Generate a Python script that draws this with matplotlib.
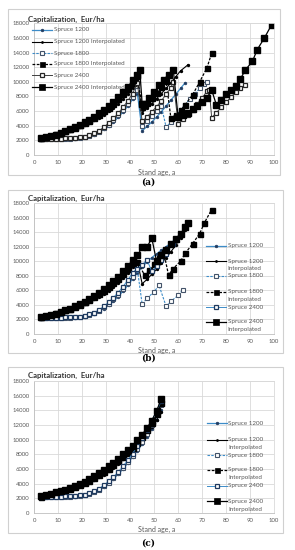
import matplotlib
matplotlib.use("Agg")
import matplotlib.pyplot as plt
from matplotlib.lines import Line2D
from matplotlib.patches import Rectangle

W, H = 295, 550

# ---------------- data ----------------
EARLY_AGES = [3, 5, 7, 9, 11, 13, 15, 17, 19, 21, 23, 25, 27, 29, 31, 33, 35, 37, 39, 41]
EARLY_1200 = [2100, 2150, 2150, 2200, 2200, 2200, 2250, 2250, 2300, 2400, 2550, 2800, 3100, 3500, 3950, 4500, 5150, 5900, 6700, 7600]
EARLY_1200I = [2250, 2400, 2550, 2700, 2900, 3100, 3300, 3550, 3800, 4100, 4400, 4750, 5100, 5500, 5950, 6450, 7000, 7650, 8350, 9200]
EARLY_1800 = [2150, 2200, 2200, 2200, 2250, 2250, 2250, 2300, 2300, 2450, 2600, 2850, 3200, 3650, 4150, 4750, 5400, 6150, 7000, 7900]
EARLY_1800I = [2300, 2450, 2650, 2850, 3050, 3250, 3500, 3750, 4050, 4350, 4700, 5100, 5500, 5950, 6450, 7000, 7600, 8300, 9000, 9800]
EARLY_2400 = [2200, 2200, 2250, 2250, 2250, 2300, 2300, 2350, 2400, 2500, 2700, 2950, 3300, 3800, 4350, 5000, 5700, 6500, 7400, 8400]
EARLY_2400I = [2300, 2450, 2600, 2800, 3000, 3250, 3500, 3800, 4100, 4450, 4800, 5250, 5700, 6200, 6750, 7300, 7900, 8600, 9300, 10200]

# panel (a) tails
A_1200_AGES = [43, 45, 47, 49, 51, 53, 55, 57, 59, 61, 63]
A_1200_VALS = [8400, 3300, 3900, 4500, 5200, 5900, 6700, 7500, 8300, 9100, 9900]
A_1200I_AGES = [43, 45, 47, 49, 51, 53, 55, 57, 59, 61, 64]
A_1200I_VALS = [10200, 5800, 6400, 7000, 7700, 8400, 9100, 9900, 10700, 11500, 12300]
A_1800_AGES = [43, 45, 47, 49, 51, 53, 55, 57, 59, 61, 63, 65, 67, 69, 71, 72]
A_1800_VALS = [8900, 4000, 4700, 5300, 6000, 6700, 3800, 4500, 5300, 6100, 6900, 7700, 8400, 9100, 9700, 10000]
A_1800I_AGES = [43, 45, 47, 49, 51, 53, 55, 57, 59, 61, 63, 66, 69, 72, 74]
A_1800I_VALS = [10800, 6500, 7100, 7800, 8500, 9300, 10100, 5000, 5500, 6100, 6900, 8200, 10000, 11900, 13900]
A_2400_AGES = [43, 45, 47, 49, 51, 53, 55, 57, 58, 60, 62, 64, 66, 68, 70, 72, 73, 74, 76, 78, 80, 82, 84, 86, 88]
A_2400_VALS = [9800, 4600, 5200, 5900, 6600, 7400, 8300, 9200, 10000, 4300, 4900, 5500, 6200, 7000, 7800, 8700, 8900, 5100, 5800, 6500, 7200, 7900, 8600, 9100, 9500]
A_2400I_AGES = [43, 44, 45, 46, 48, 50, 52, 54, 56, 58, 60, 62, 64, 66, 68, 70, 72, 74, 76, 78, 80, 82, 84, 86, 88, 91, 93, 96, 99]
A_2400I_VALS = [11000, 11600, 7000, 7000, 7800, 8600, 9500, 10300, 11000, 11600, 5200, 5400, 5700, 6300, 6700, 7200, 7800, 8900, 6800, 7500, 8400, 8900, 9400, 10400, 11600, 12800, 14400, 16000, 17800]

# panel (b) tails
B_1200_AGES = [43, 45, 47, 49, 51, 53, 55, 57, 59, 61, 63]
B_1200_VALS = [8400, 9200, 9900, 10500, 11000, 11500, 12000, 12500, 13100, 13700, 14400]
B_1200I_AGES = [43, 45, 47, 49, 51, 53, 55, 57, 59, 61, 63]
B_1200I_VALS = [10000, 6900, 7500, 8200, 8900, 9700, 10500, 11300, 12200, 13200, 14300]
B_1800_AGES = [43, 45, 47, 50, 52, 55, 57, 60, 62]
B_1800_VALS = [8900, 4100, 4900, 5800, 6700, 3800, 4500, 5300, 6100]
B_1800I_AGES = [43, 46, 48, 50, 52, 54, 56, 58, 61, 63, 66, 69, 71, 74]
B_1800I_VALS = [9900, 8100, 8800, 9600, 10400, 11200, 8100, 9000, 10000, 11100, 12400, 13800, 15300, 17100]
B_2400_AGES = [43, 45, 47, 49, 51, 53, 55, 57, 58]
B_2400_VALS = [9000, 9500, 10200, 8600, 9300, 10100, 11000, 12300, 12400]
B_2400I_AGES = [43, 45, 47, 49, 51, 53, 55, 57, 59, 61, 63, 64]
B_2400I_VALS = [10800, 11900, 11900, 13200, 10000, 10800, 11500, 12300, 13100, 13800, 14700, 15300]

# panel (c)
C_AGES = [3, 5, 7, 9, 11, 13, 15, 17, 19, 21, 23, 25, 27, 29, 31, 33, 35, 37, 39, 41, 43, 45, 47, 49, 51, 53]
C_1200 = [2100, 2150, 2150, 2200, 2200, 2200, 2250, 2250, 2300, 2400, 2550, 2800, 3150, 3600, 4100, 4650, 5300, 6000, 6800, 7650, 8500, 9400, 10400, 11500, 12700, 14000]
C_1200I = [2200, 2350, 2500, 2650, 2800, 3000, 3200, 3400, 3650, 3900, 4200, 4500, 4850, 5250, 5700, 6200, 6750, 7350, 8000, 8650, 9300, 10000, 10800, 11700, 12700, 13800]
C_1800 = [2150, 2200, 2200, 2200, 2250, 2250, 2250, 2300, 2300, 2450, 2600, 2850, 3200, 3650, 4150, 4750, 5400, 6150, 6950, 7800, 8700, 9700, 10800, 12000, 13300, 14700]
C_1800I = [2250, 2400, 2550, 2700, 2900, 3100, 3300, 3550, 3800, 4100, 4400, 4750, 5150, 5550, 6000, 6500, 7050, 7650, 8250, 8900, 9600, 10400, 11300, 12300, 13500, 15000]
C_2400 = [2200, 2200, 2250, 2250, 2250, 2300, 2300, 2350, 2400, 2500, 2700, 2950, 3300, 3800, 4300, 4900, 5600, 6350, 7200, 8100, 9100, 10200, 11300, 12600, 13900, 15300]
C_2400I = [2300, 2450, 2600, 2800, 3000, 3200, 3450, 3700, 3950, 4250, 4600, 5000, 5400, 5850, 6350, 6850, 7400, 8000, 8600, 9200, 9900, 10700, 11600, 12600, 13900, 15600]

LABELS = ["Spruce 1200", "Spruce 1200 Interpolated", "Spruce 1800",
          "Spruce 1800 Interpolated", "Spruce 2400", "Spruce 2400 Interpolated"]
X_TICKS = [0, 10, 20, 30, 40, 50, 60, 70, 80, 90, 100]
Y_TICKS = [0, 2000, 4000, 6000, 8000, 10000, 12000, 14000, 16000, 18000]

# ---------------- styles ----------------
BLUE = "#3D8CC8"
NAVY = "#1F3A5F"
GRID = "#D9D9D9"
TICKC = "#595959"
FONT = ["Lato", "DejaVu Sans"]

def styles(panel):
    c2400 = "#404040" if panel == "a" else BLUE
    e2400 = "#262626" if panel == "a" else NAVY
    return [
        dict(color=BLUE, ls="-", lw=0.9, marker="o", ms=2.0, mfc=NAVY, mec=NAVY, mew=0.4),
        dict(color="black", ls="-", lw=0.8, marker="o", ms=1.4, mfc="black", mec="black"),
        dict(color=BLUE, ls=(0, (2.2, 1.2)), lw=0.8, marker="s", ms=3.4, mfc="white", mec="#44546A", mew=0.8),
        dict(color="black", ls=(0, (2.2, 1.2)), lw=0.9, marker="s", ms=3.6, mfc="black", mec="black"),
        dict(color=c2400, ls="-", lw=0.7, marker="s", ms=3.4, mfc="white", mec=e2400, mew=0.9),
        dict(color="black", ls="-", lw=0.9, marker="s", ms=4.5, mfc="black", mec="black"),
    ]

plt.rcParams["font.family"] = FONT
fig = plt.figure(figsize=(W / 100, H / 100), dpi=100)

def fx(x):
    return x / W

def fy(y):
    return 1 - y / H

def frame(x0, y0, x1, y1):
    fig.add_artist(Rectangle((fx(x0), fy(y1)), fx(x1) - fx(x0), fy(y0) - fy(y1),
                             transform=fig.transFigure, fill=False, ec="#D0D0D0", lw=0.8))

def make_axes(top, bottom):
    ax = fig.add_axes([fx(34.3), fy(bottom), fx(274) - fx(34.3), fy(top) - fy(bottom)])
    ax.set_xlim(0, 100)
    ax.set_ylim(0, 18000)
    ax.set_xticks(X_TICKS)
    ax.set_yticks(Y_TICKS)
    ax.set_xticklabels([str(t) for t in X_TICKS])
    ax.set_yticklabels([str(t) for t in Y_TICKS])
    ax.grid(True, color=GRID, lw=0.6)
    ax.set_axisbelow(True)
    for s in ax.spines.values():
        s.set_color(GRID)
        s.set_linewidth(0.6)
    ax.spines["left"].set_color("#BFBFBF")
    ax.spines["bottom"].set_color("#BFBFBF")
    ax.tick_params(length=0, labelsize=4.3, labelcolor=TICKC, pad=3.5)
    return ax

def legend_entry(x0, x1, y, st):
    ln = Line2D([fx(x0), fx(x1)], [fy(y), fy(y)], transform=fig.transFigure,
                color=st["color"], ls=st["ls"], lw=st["lw"])
    fig.add_artist(ln)
    mk = Line2D([fx((x0 + x1) / 2)], [fy(y)], transform=fig.transFigure, ls="none",
                marker=st["marker"], ms=st["ms"], mfc=st["mfc"], mec=st["mec"],
                mew=st.get("mew", 0.5))
    fig.add_artist(mk)

def ltext(x, y, s):
    fig.text(fx(x), fy(y), s, fontsize=4.5, color=TICKC, ha="left", va="center")

def titles(ytitle, ylabel_y, ycap, cap):
    fig.text(fx(28), fy(ytitle), "Capitalization,  Eur/ha", fontsize=5.6,
             color="#333333", fontweight="bold", ha="left", va="center")
    fig.text(fx(157), fy(ylabel_y), "Stand age, a", fontsize=5.0, color=TICKC,
             ha="center", va="center")
    fig.text(fx(148), fy(ycap), cap, fontsize=6.5, family="DejaVu Serif",
             fontweight="bold", ha="center", va="center")

# ---------------- panel (a) ----------------
frame(8, 9, 280, 175)
ax = make_axes(23.3, 155)
st = styles("a")
series_a = [
    (EARLY_AGES + A_1200_AGES, EARLY_1200 + A_1200_VALS),
    (EARLY_AGES + A_1200I_AGES, EARLY_1200I + A_1200I_VALS),
    (EARLY_AGES + A_1800_AGES, EARLY_1800 + A_1800_VALS),
    (EARLY_AGES + A_1800I_AGES, EARLY_1800I + A_1800I_VALS),
    (EARLY_AGES + A_2400_AGES, EARLY_2400 + A_2400_VALS),
    (EARLY_AGES + A_2400I_AGES, EARLY_2400I + A_2400I_VALS),
]
for (xs, ys), s in zip(series_a, st):
    ax.plot(xs, ys, **s)
for i, (lab, s) in enumerate(zip(LABELS, st)):
    y = [30, 41.5, 53, 64, 75.5, 87][i]
    legend_entry(32, 52, y, s)
    ltext(53.5, y, lab)
titles(19, 172, 182, "(a)")

# ---------------- panel (b) ----------------
frame(8, 190, 283, 353)
ax = make_axes(203, 334)
st = styles("b")
series_b = [
    (EARLY_AGES + B_1200_AGES, EARLY_1200 + B_1200_VALS),
    (EARLY_AGES + B_1200I_AGES, EARLY_1200I + B_1200I_VALS),
    (EARLY_AGES + B_1800_AGES, EARLY_1800 + B_1800_VALS),
    (EARLY_AGES + B_1800I_AGES, EARLY_1800I + B_1800I_VALS),
    (EARLY_AGES + B_2400_AGES, EARLY_2400 + B_2400_VALS),
    (EARLY_AGES + B_2400I_AGES, EARLY_2400I + B_2400I_VALS),
]
for (xs, ys), s in zip(series_b, st):
    ax.plot(xs, ys, **s)
ys_b = [246, 261, 276, 292, 307, 322]
for i, (lab, s) in enumerate(zip(LABELS, st)):
    legend_entry(206, 226, ys_b[i], s)
    if "Interpolated" in lab:
        ltext(227.5, ys_b[i], lab.replace(" Interpolated", ""))
        ltext(227.5, ys_b[i] + 8, "Interpolated")
    else:
        ltext(227.5, ys_b[i], lab)
titles(198, 350, 358, "(b)")

# ---------------- panel (c) ----------------
frame(8, 367, 283, 533)
ax = make_axes(381, 513)
st = styles("c")
series_c = [C_1200, C_1200I, C_1800, C_1800I, C_2400, C_2400I]
for ys, s in zip(series_c, st):
    ax.plot(C_AGES, ys, **s)
ys_c = [423, 440, 455, 470, 486, 501]
for i, (lab, s) in enumerate(zip(LABELS, st)):
    legend_entry(207, 227, ys_c[i], s)
    if "Interpolated" in lab:
        ltext(228.5, ys_c[i], lab.replace(" Interpolated", ""))
        ltext(228.5, ys_c[i] + 8, "Interpolated")
    else:
        ltext(228.5, ys_c[i], lab)
titles(375, 529, 543, "(c)")

fig.savefig("out.png", dpi=100)
